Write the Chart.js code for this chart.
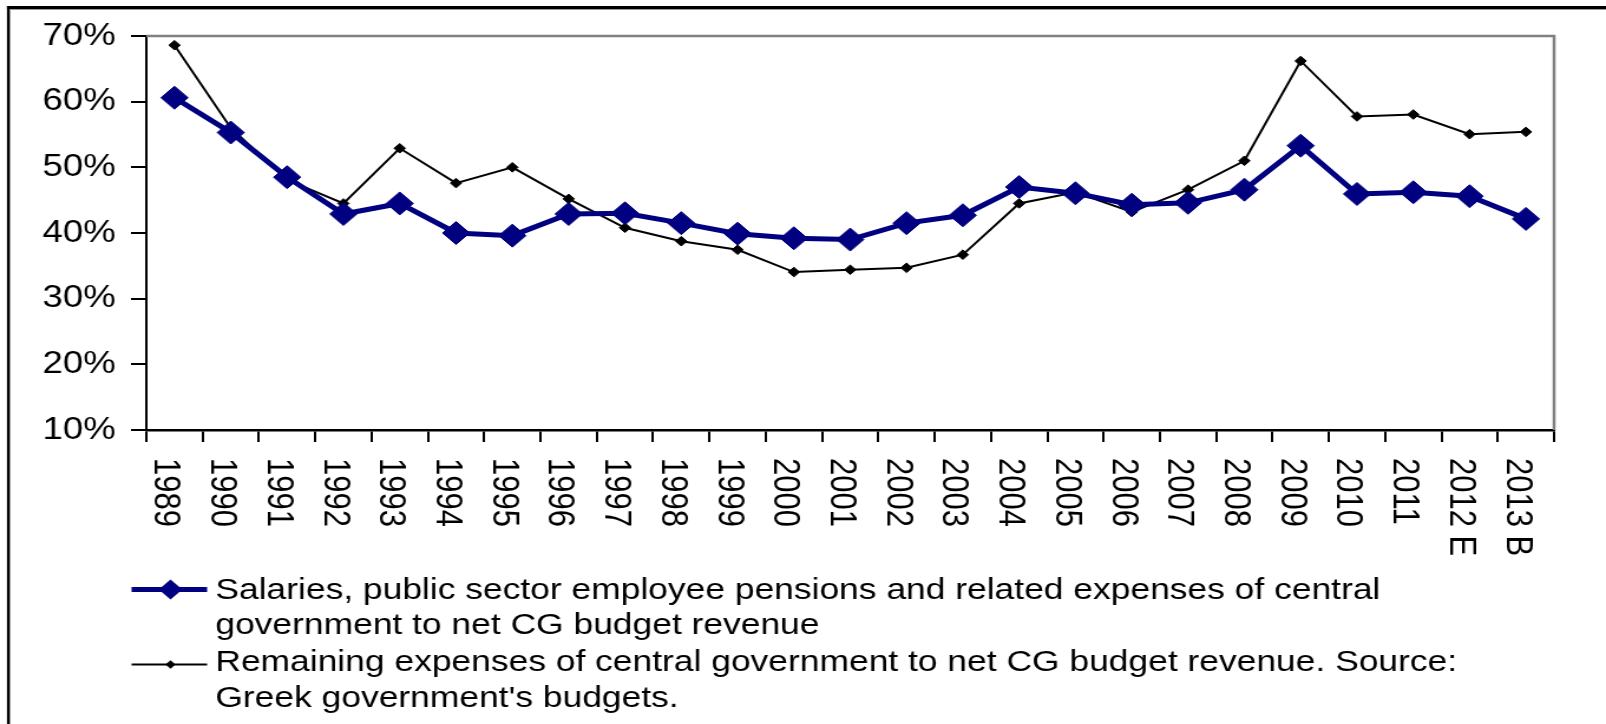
<!DOCTYPE html>
<html>
<head>
<meta charset="utf-8">
<script src="https://cdn.jsdelivr.net/npm/chart.js@4/dist/chart.umd.min.js"></script>
<style>
  html, body { margin: 0; padding: 0; background: #fff; }
  #chart { display: block; }
</style>
</head>
<body>
<canvas id="chart"></canvas>
<script>
const years = ['1989', '1990', '1991', '1992', '1993', '1994', '1995', '1996', '1997', '1998',
  '1999', '2000', '2001', '2002', '2003', '2004', '2005', '2006', '2007', '2008',
  '2009', '2010', '2011', '2012 E', '2013 B'];
const salaries = [60.6, 55.3, 48.5, 42.9, 44.5, 40.0, 39.6, 42.9, 43.0, 41.5,
  39.9, 39.2, 39.0, 41.5, 42.7, 47.0, 46.05, 44.3, 44.6, 46.6,
  53.3, 45.95, 46.2, 45.6, 42.15];
const remaining = [68.6, 56.0, 48.1, 44.5, 52.9, 47.6, 50.0, 45.2, 40.8, 38.75,
  37.45, 34.05, 34.4, 34.7, 36.7, 44.5, 46.2, 43.2, 46.6, 51.0,
  66.2, 57.75, 58.05, 55.05, 55.4];
const yTicks = [10, 20, 30, 40, 50, 60, 70];
const seriesNames = [
  ['Salaries, public sector employee pensions and related expenses of central', 'government to net CG budget revenue'],
  ['Remaining expenses of central government to net CG budget revenue. Source:', "Greek government's budgets."]
];

// the original picture is stretched sideways, so draw narrow and stretch with css
const SX = 1.18;
const canvas = document.getElementById('chart');
canvas.width = Math.round(1606 / SX);
canvas.height = 724;
canvas.style.width = '1606px';
canvas.style.height = '724px';

const FONT = '"Liberation Sans", Arial, sans-serif';

function diamond(ctx, x, y, r, color) {
  ctx.beginPath();
  ctx.moveTo(x - r, y);
  ctx.lineTo(x, y - r);
  ctx.lineTo(x + r, y);
  ctx.lineTo(x, y + r);
  ctx.closePath();
  ctx.fillStyle = color;
  ctx.fill();
}

const frame = {
  id: 'frame',
  beforeDraw(chart) {
    const { ctx, width, height } = chart;
    ctx.save();
    ctx.fillStyle = '#fff';
    ctx.fillRect(0, 0, width, height);
    ctx.fillStyle = '#000';
    ctx.fillRect(5.9, 6, width, 3);
    ctx.fillRect(5.9, 6, 2.5, height);
    ctx.fillStyle = '#999';
    ctx.fillRect(8.4, 9, width, 1);
    ctx.restore();
  },
  beforeDatasetsDraw(chart) {
    const { ctx, chartArea: a } = chart;
    ctx.save();
    ctx.strokeStyle = '#808080';
    ctx.lineWidth = 2.5;
    ctx.beginPath();
    ctx.moveTo(a.left, a.top);
    ctx.lineTo(a.right, a.top);
    ctx.lineTo(a.right, a.bottom);
    ctx.stroke();
    ctx.restore();
  }
};

const xLabels = {
  id: 'xLabels',
  afterDraw(chart) {
    const { ctx, chartArea } = chart;
    const x = chart.scales.x;
    ctx.save();
    ctx.font = '31px ' + FONT;
    ctx.fillStyle = '#000';
    ctx.textAlign = 'left';
    ctx.textBaseline = 'alphabetic';
    years.forEach((label, i) => {
      const cx = x.getPixelForTick(i);
      ctx.save();
      ctx.translate(cx - 16.5, chartArea.bottom + 28);
      ctx.rotate(Math.PI / 2);
      ctx.fillText(label, 0, 0);
      ctx.restore();
    });
    ctx.restore();
  }
};

const legendBox = {
  id: 'legendBox',
  afterDraw(chart) {
    const ctx = chart.ctx;
    const rows = [
      { lineY: 589.5, base: [598.5, 633.5], r: 10 },
      { lineY: 664.5, base: [670.8, 707.3], r: 4.2 }
    ];
    ctx.save();
    ctx.font = '30px ' + FONT;
    ctx.textAlign = 'left';
    ctx.textBaseline = 'alphabetic';
    chart.data.datasets.forEach((ds, i) => {
      const row = rows[i];
      ctx.strokeStyle = ds.borderColor;
      ctx.lineWidth = ds.borderWidth;
      ctx.beginPath();
      ctx.moveTo(111.5, row.lineY);
      ctx.lineTo(175.5, row.lineY);
      ctx.stroke();
      diamond(ctx, 144.5, row.lineY, row.r, ds.pointBackgroundColor);
      ctx.fillStyle = '#000';
      seriesNames[i].forEach((t, j) => ctx.fillText(t, 182.5, row.base[j]));
    });
    ctx.restore();
  }
};

new Chart(canvas, {
  type: 'line',
  data: {
    labels: years,
    datasets: [
      {
        label: seriesNames[0].join(' '),
        data: salaries,
        borderColor: '#000080',
        backgroundColor: '#000080',
        pointBackgroundColor: '#000080',
        pointBorderColor: '#000080',
        borderWidth: 5,
        pointStyle: 'rectRot',
        pointRadius: 11.5,
        pointBorderWidth: 1,
        tension: 0
      },
      {
        label: seriesNames[1].join(' '),
        data: remaining,
        borderColor: '#000',
        backgroundColor: '#000',
        pointBackgroundColor: '#000',
        pointBorderColor: '#000',
        borderWidth: 2,
        pointStyle: 'rectRot',
        pointRadius: 4.8,
        pointBorderWidth: 1,
        tension: 0
      }
    ]
  },
  options: {
    responsive: false,
    animation: false,
    devicePixelRatio: 1,
    layout: { padding: { top: 36, right: 44, bottom: 0, left: 0 } },
    plugins: { legend: { display: false }, tooltip: { enabled: false } },
    scales: {
      x: {
        offset: true,
        afterFit: (s) => { s.height = 294; },
        grid: { offset: true, drawOnChartArea: false, drawTicks: true, tickLength: 12, color: '#000', lineWidth: 2 },
        border: { display: true, color: '#000', width: 2.5 },
        ticks: { display: false }
      },
      y: {
        min: yTicks[0],
        max: yTicks[yTicks.length - 1],
        afterFit: (s) => { s.width = 124; },
        afterBuildTicks: (s) => { s.ticks = yTicks.map((v) => ({ value: v })); },
        grid: { drawOnChartArea: false, drawTicks: true, tickLength: 13, color: '#000', lineWidth: 2 },
        border: { display: true, color: '#000', width: 2 },
        ticks: {
          padding: 13,
          color: '#000',
          font: { family: FONT, size: 31 },
          callback: (v) => v + '%'
        }
      }
    }
  },
  plugins: [frame, xLabels, legendBox]
});
</script>
</body>
</html>
